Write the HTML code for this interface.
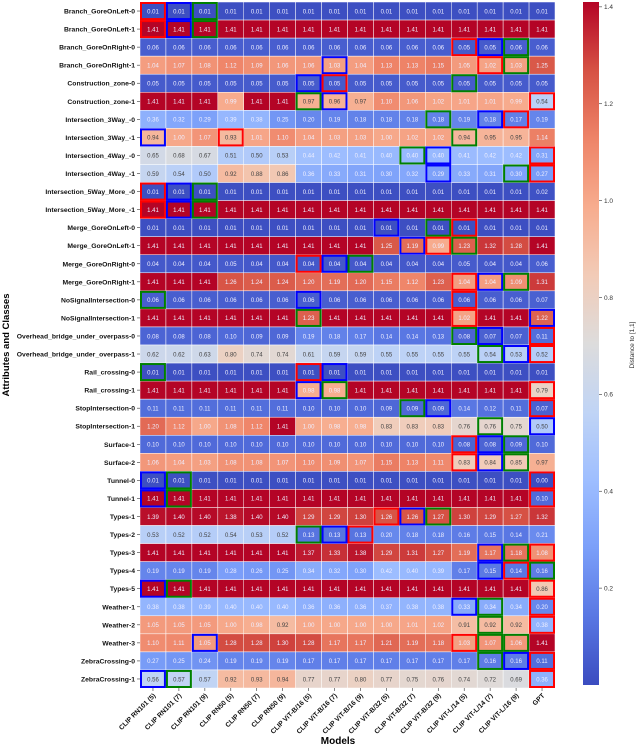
<!DOCTYPE html>
<html><head><meta charset="utf-8">
<style>
html,body{margin:0;padding:0;background:#fff;}
svg{display:block;font-family:"Liberation Sans","DejaVu Sans",sans-serif;}
</style></head>
<body>
<svg id="chart" width="640" height="748" viewBox="0 0 640 748" xmlns="http://www.w3.org/2000/svg">
<defs>
<linearGradient id="cbgrad" x1="0" y1="1" x2="0" y2="0"></linearGradient>
</defs>
<g id="cells"></g>
<g id="boxes"></g>
<g id="ylabels"></g>
<g id="xlabels"></g>
<text x="9" y="345" transform="rotate(-90 9 345)" text-anchor="middle" font-size="9.5" font-weight="bold">Attributes and Classes</text>
<text x="338" y="744" text-anchor="middle" font-size="10" font-weight="bold">Models</text>
<rect x="583" y="2" width="16" height="683" fill="url(#cbgrad)"/>
<g id="cbticks"></g>
<text x="634" y="345" transform="rotate(-90 634 345)" text-anchor="middle" font-size="6.5" fill="#333">Distance to [1,1]</text>
</svg>
<script>
const models = ["CLIP RN101 (5)","CLIP RN101 (7)","CLIP RN101 (9)","CLIP RN50 (5)","CLIP RN50 (7)","CLIP RN50 (9)","CLIP ViT-B/16 (5)","CLIP ViT-B/16 (7)","CLIP ViT-B/16 (9)","CLIP ViT-B/32 (5)","CLIP ViT-B/32 (7)","CLIP ViT-B/32 (9)","CLIP ViT-L/14 (5)","CLIP ViT-L/14 (7)","CLIP ViT-L/16 (9)","GPT"];
const rowsLabels = ["Branch_GoreOnLeft-0","Branch_GoreOnLeft-1","Branch_GoreOnRight-0","Branch_GoreOnRight-1","Construction_zone-0","Construction_zone-1","Intersection_3Way_-0","Intersection_3Way_-1","Intersection_4Way_-0","Intersection_4Way_-1","Intersection_5Way_More_-0","Intersection_5Way_More_-1","Merge_GoreOnLeft-0","Merge_GoreOnLeft-1","Merge_GoreOnRight-0","Merge_GoreOnRight-1","NoSignalIntersection-0","NoSignalIntersection-1","Overhead_bridge_under_overpass-0","Overhead_bridge_under_overpass-1","Rail_crossing-0","Rail_crossing-1","StopIntersection-0","StopIntersection-1","Surface-1","Surface-2","Tunnel-0","Tunnel-1","Types-1","Types-2","Types-3","Types-4","Types-5","Weather-1","Weather-2","Weather-3","ZebraCrossing-0","ZebraCrossing-1"];
const values = [
[0.01,0.01,0.01,0.01,0.01,0.01,0.01,0.01,0.01,0.01,0.01,0.01,0.01,0.01,0.01,0.01],
[1.41,1.41,1.41,1.41,1.41,1.41,1.41,1.41,1.41,1.41,1.41,1.41,1.41,1.41,1.41,1.41],
[0.06,0.06,0.06,0.06,0.06,0.06,0.06,0.06,0.06,0.06,0.06,0.06,0.05,0.05,0.06,0.06],
[1.04,1.07,1.08,1.12,1.09,1.06,1.06,1.03,1.04,1.13,1.13,1.15,1.05,1.02,1.03,1.25],
[0.05,0.05,0.05,0.05,0.05,0.05,0.05,0.05,0.05,0.05,0.05,0.05,0.05,0.05,0.05,0.05],
[1.41,1.41,1.41,0.99,1.41,1.41,0.97,0.96,0.97,1.10,1.06,1.02,1.01,1.01,0.99,0.54],
[0.36,0.32,0.29,0.39,0.38,0.25,0.20,0.19,0.18,0.18,0.18,0.18,0.19,0.18,0.17,0.19],
[0.94,1.00,1.07,0.93,1.01,1.10,1.04,1.03,1.03,1.00,1.02,1.02,0.94,0.95,0.95,1.14],
[0.65,0.68,0.67,0.51,0.50,0.53,0.44,0.42,0.41,0.40,0.40,0.40,0.41,0.42,0.42,0.31],
[0.59,0.54,0.50,0.92,0.88,0.86,0.36,0.33,0.31,0.30,0.32,0.29,0.33,0.31,0.30,0.27],
[0.01,0.01,0.01,0.01,0.01,0.01,0.01,0.01,0.01,0.01,0.01,0.01,0.01,0.01,0.01,0.02],
[1.41,1.41,1.41,1.41,1.41,1.41,1.41,1.41,1.41,1.41,1.41,1.41,1.41,1.41,1.41,1.41],
[0.01,0.01,0.01,0.01,0.01,0.01,0.01,0.01,0.01,0.01,0.01,0.01,0.01,0.01,0.01,0.01],
[1.41,1.41,1.41,1.41,1.41,1.41,1.41,1.41,1.41,1.25,1.19,0.99,1.23,1.32,1.28,1.41],
[0.04,0.04,0.04,0.05,0.04,0.04,0.04,0.04,0.04,0.04,0.04,0.04,0.05,0.04,0.04,0.06],
[1.41,1.41,1.41,1.26,1.24,1.24,1.20,1.19,1.20,1.15,1.12,1.23,1.04,1.04,1.09,1.31],
[0.06,0.06,0.06,0.06,0.06,0.06,0.06,0.06,0.06,0.06,0.06,0.06,0.06,0.06,0.06,0.07],
[1.41,1.41,1.41,1.41,1.41,1.41,1.23,1.41,1.41,1.41,1.41,1.41,1.02,1.41,1.41,1.22],
[0.08,0.08,0.08,0.10,0.09,0.09,0.19,0.18,0.17,0.14,0.14,0.13,0.08,0.07,0.07,0.11],
[0.62,0.62,0.63,0.80,0.74,0.74,0.61,0.59,0.59,0.55,0.55,0.55,0.55,0.54,0.53,0.52],
[0.01,0.01,0.01,0.01,0.01,0.01,0.01,0.01,0.01,0.01,0.01,0.01,0.01,0.01,0.01,0.01],
[1.41,1.41,1.41,1.41,1.41,1.41,0.98,0.98,1.41,1.41,1.41,1.41,1.41,1.41,1.41,0.79],
[0.11,0.11,0.11,0.11,0.11,0.11,0.10,0.10,0.10,0.09,0.09,0.09,0.14,0.12,0.11,0.07],
[1.20,1.12,1.00,1.08,1.12,1.41,1.00,0.98,0.98,0.83,0.83,0.83,0.76,0.76,0.75,0.50],
[0.10,0.10,0.10,0.10,0.10,0.10,0.10,0.10,0.10,0.10,0.10,0.10,0.08,0.08,0.09,0.10],
[1.06,1.04,1.03,1.08,1.08,1.07,1.10,1.09,1.07,1.15,1.13,1.11,0.83,0.84,0.85,0.97],
[0.01,0.01,0.01,0.01,0.01,0.01,0.01,0.01,0.01,0.01,0.01,0.01,0.01,0.01,0.01,0.00],
[1.41,1.41,1.41,1.41,1.41,1.41,1.41,1.41,1.41,1.41,1.41,1.41,1.41,1.41,1.41,0.10],
[1.39,1.40,1.40,1.38,1.40,1.40,1.29,1.29,1.30,1.26,1.26,1.27,1.30,1.29,1.27,1.32],
[0.53,0.52,0.52,0.54,0.53,0.52,0.13,0.13,0.13,0.20,0.18,0.18,0.16,0.15,0.14,0.21],
[1.41,1.41,1.41,1.41,1.41,1.41,1.37,1.33,1.38,1.29,1.31,1.27,1.19,1.17,1.18,1.08],
[0.19,0.19,0.19,0.28,0.26,0.25,0.34,0.32,0.30,0.42,0.40,0.39,0.17,0.15,0.14,0.16],
[1.41,1.41,1.41,1.41,1.41,1.41,1.41,1.41,1.41,1.41,1.41,1.41,1.41,1.41,1.41,0.86],
[0.38,0.38,0.39,0.40,0.40,0.40,0.36,0.36,0.36,0.37,0.38,0.38,0.33,0.34,0.34,0.20],
[1.05,1.05,1.05,1.00,0.98,0.92,1.00,1.00,1.00,1.00,1.01,1.02,0.91,0.92,0.92,0.38],
[1.10,1.11,1.05,1.28,1.28,1.30,1.28,1.17,1.17,1.21,1.19,1.18,1.03,1.07,1.06,1.41],
[0.27,0.25,0.24,0.19,0.19,0.19,0.17,0.17,0.17,0.17,0.17,0.17,0.17,0.16,0.16,0.11],
[0.56,0.57,0.57,0.92,0.93,0.94,0.77,0.77,0.80,0.77,0.75,0.76,0.74,0.72,0.69,0.36]
];
// highlight boxes: [row, col, color]
const highlights = [
[0,0,"r"],[0,1,"b"],[0,2,"g"],[1,0,"r"],[1,1,"b"],[1,2,"g"],
[2,12,"r"],[2,13,"b"],[2,14,"g"],[3,7,"b"],[3,13,"r"],[3,14,"g"],
[4,6,"b"],[4,7,"r"],[4,12,"g"],[5,6,"g"],[5,7,"b"],[5,15,"r"],
[6,11,"g"],[6,13,"b"],[6,14,"r"],[7,0,"b"],[7,3,"r"],[7,12,"g"],
[8,10,"g"],[8,11,"b"],[8,15,"r"],[9,11,"b"],[9,14,"g"],[9,15,"r"],
[10,0,"r"],[10,1,"b"],[10,2,"g"],[11,0,"r"],[11,1,"b"],[11,2,"g"],
[12,9,"b"],[12,11,"g"],[12,12,"r"],[13,10,"b"],[13,11,"r"],[13,12,"g"],
[14,6,"r"],[14,7,"b"],[14,8,"g"],[15,12,"r"],[15,13,"b"],[15,14,"g"],
[16,0,"g"],[16,6,"b"],[16,12,"r"],[17,6,"g"],[17,12,"r"],[17,15,"b"],
[18,12,"g"],[18,13,"b"],[18,15,"r"],[19,13,"g"],[19,14,"b"],[19,15,"r"],
[20,0,"g"],[20,6,"r"],[20,7,"b"],[21,6,"b"],[21,7,"g"],[21,15,"r"],
[22,10,"g"],[22,11,"b"],[22,15,"r"],[23,13,"g"],[23,15,"b"],
[24,12,"r"],[24,13,"b"],[24,14,"g"],[25,12,"r"],[25,13,"b"],[25,14,"g"],
[26,0,"b"],[26,1,"g"],[26,15,"r"],[27,0,"b"],[27,1,"g"],[27,15,"r"],
[28,9,"r"],[28,10,"b"],[28,11,"g"],[29,6,"g"],[29,7,"b"],[29,8,"r"],
[30,13,"b"],[30,14,"g"],[30,15,"r"],[31,13,"b"],[31,14,"r"],[31,15,"g"],
[32,0,"b"],[32,1,"g"],[32,15,"r"],[33,12,"b"],[33,13,"g"],[33,15,"r"],
[34,13,"g"],[34,15,"r"],[35,2,"b"],[35,12,"r"],[35,13,"g"],[35,14,"g"],
[36,13,"g"],[36,14,"b"],[36,15,"r"],[37,0,"b"],[37,1,"g"],[37,15,"r"]
];
const cbTicks = [0.2,0.4,0.6,0.8,1.0,1.2,1.4];

const X0=140, X1=555, Y0=2, Y1=688, VMIN=0, VMAX=1.41;
const cw=(X1-X0)/models.length, ch=(Y1-Y0)/rowsLabels.length;
const xPos = c => X0 + c*cw;
const yPos = r => Y0 + r*ch;
const cbY = v => 685 - (v-VMIN)/(VMAX-VMIN)*683;
const stops = [[59,76,192],[89,119,227],[123,159,249],[158,190,255],[192,212,245],[221,220,220],[242,203,183],[247,172,142],[238,132,104],[214,82,68],[180,4,38]];
function cmap(v){
  let t=Math.max(0,Math.min(1,(v-VMIN)/(VMAX-VMIN)))*(stops.length-1);
  let i=Math.min(Math.floor(t),stops.length-2), f=t-i;
  const c=stops[i].map((a,k)=>Math.round(a+(stops[i+1][k]-a)*f));
  return `rgb(${c[0]},${c[1]},${c[2]})`;
}
const NS="http://www.w3.org/2000/svg";
function mk(tag,attrs,parent){const e=document.createElementNS(NS,tag);for(const k in attrs)e.setAttribute(k,attrs[k]);parent.appendChild(e);return e;}

const gc=document.getElementById('cells');
values.forEach((row,r)=>row.forEach((v,c)=>{
  const rect=mk('rect',{x:xPos(c),y:yPos(r),width:cw,height:ch,fill:cmap(v),stroke:'#fff','stroke-width':0.5},gc);
  
  
  const light = v>0.45 && v<0.98;
  const t=mk('text',{x:xPos(c)+cw/2,y:yPos(r)+ch/2+2.3,'text-anchor':'middle','font-size':6,fill:light?'#444':'#eef'},gc);
  t.textContent=v.toFixed(2);
  
  
}));
const colors={r:'#ff0000',b:'#0000ff',g:'#008000'};
const gb=document.getElementById('boxes');
highlights.forEach(h=>{
  const b=mk('rect',{x:xPos(h[1])+1,y:yPos(h[0])+1,width:cw-2,height:ch-2,fill:'none',stroke:colors[h[2]],'stroke-width':2},gb);
  
  
});
const gy=document.getElementById('ylabels');
rowsLabels.forEach((l,r)=>{
  const t=mk('text',{x:135,y:yPos(r)+ch/2+2.5,'text-anchor':'end','font-size':6.8,'font-weight':'bold',fill:'#111'},gy);
  t.textContent=l;
  
  
  mk('line',{x1:137,x2:140,y1:yPos(r)+ch/2,y2:yPos(r)+ch/2,stroke:'#333','stroke-width':0.6},gy);
});
const gx=document.getElementById('xlabels');
models.forEach((m,c)=>{
  const cx=xPos(c)+cw/2;
  mk('line',{x1:cx,x2:cx,y1:Y1,y2:Y1+3,stroke:'#333','stroke-width':0.6},gx);
  const t=mk('text',{x:cx+3,y:Y1+8,'text-anchor':'end','font-size':6.8,'font-weight':'bold',fill:'#111',transform:`rotate(-45 ${cx+3} ${Y1+8})`},gx);
  t.textContent=m;
  
  
});
const grad=document.getElementById('cbgrad');
stops.forEach((s,i)=>mk('stop',{offset:(i/(stops.length-1)*100)+'%','stop-color':`rgb(${s[0]},${s[1]},${s[2]})`},grad));
const gt=document.getElementById('cbticks');
cbTicks.forEach(v=>{
  const y=cbY(v);
  mk('line',{x1:599,x2:602,y1:y,y2:y,stroke:'#333','stroke-width':0.6},gt);
  const t=mk('text',{x:604,y:y+2.3,'font-size':6.5,fill:'#333'},gt);
  t.textContent=v.toFixed(1);
  
  
});
</script>
</body></html>
